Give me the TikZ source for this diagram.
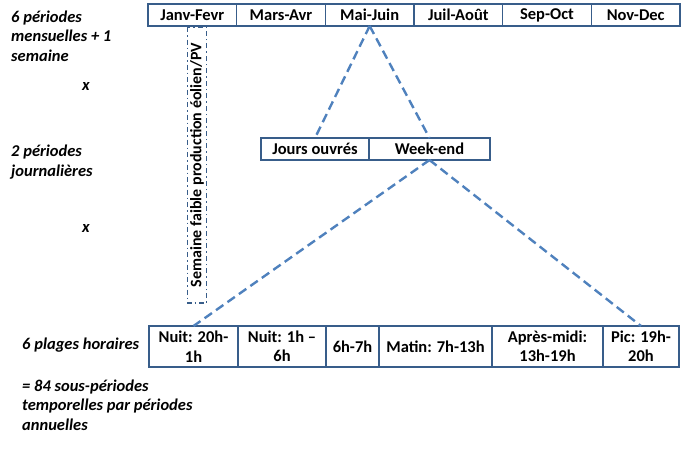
\documentclass[tikz,border=0pt]{standalone}
\usepackage{fontspec}
\setmainfont{Carlito}
\usetikzlibrary{positioning}
\definecolor{cadre}{RGB}{56,93,138}
\definecolor{trait}{RGB}{79,129,189}
\newcommand\taille{\fontsize{16.5}{19.5}\selectfont}

\begin{document}
\begin{tikzpicture}[x=1pt,y=-1pt,
    cellule/.style={draw=cadre,line width=1.6pt,minimum height=22pt,inner sep=0pt,outer sep=0pt,font=\taille\bfseries,align=center},
    plage/.style={cellule,minimum height=41pt},
    lien/.style={trait,line width=2.4pt,dash pattern=on 9pt off 5pt},
    legende/.style={font=\taille\bfseries\itshape,align=left,anchor=west,inner sep=0pt}]
  \useasboundingbox (0,0) rectangle (682,467);
  \def\largeur{88.67}

  \foreach \mois [count=\i] in {Janv-Fevr,Mars-Avr,Mai-Juin,Juil-Août,Sep-Oct,Nov-Dec}
    \node[cellule,minimum width=\largeur pt,anchor=north west] (mois\i) at ({148+(\i-1)*\largeur},4) {\mois};

  \node[cellule,minimum width=108pt,anchor=north west] (ouvres) at (261,138) {Jours ouvrés};
  \node[cellule,minimum width=121pt,right=0pt of ouvres] (weekend) {Week-end};

  \node[plage,minimum width=89pt,anchor=north west] (h1) at (149,326) {Nuit: 20h-\\1h};
  \node[plage,minimum width=88pt,right=0pt of h1] (h2) {Nuit: 1h –\\6h};
  \node[plage,minimum width=53pt,right=0pt of h2] (h3) {6h-7h};
  \node[plage,minimum width=113pt,right=0pt of h3] (h4) {Matin: 7h-13h};
  \node[plage,minimum width=111pt,right=0pt of h4] (h5) {Après-midi:\\13h-19h};
  \node[plage,minimum width=76pt,right=0pt of h5] (h6) {Pic: 19h-\\20h};

  \node[draw=cadre,line width=1.5pt,dash pattern=on 5pt off 3pt on 1.5pt off 3pt,rotate=90,minimum width=276pt,minimum height=19pt,inner sep=0pt,font=\fontsize{16}{19}\selectfont\bfseries] (semaine) at (197,165) {Semaine faible production éolien/PV};

  \draw[lien] (mois3.south) -- (ouvres.north);
  \draw[lien] (mois3.south) -- (weekend.north);
  \draw[lien] (weekend.south) -- (h1.north);
  \draw[lien] (weekend.south) -- (h6.north);

  \node[legende] (mensuel) at (11,36) {6 périodes\\mensuelles + 1\\semaine};
  \node[legende,anchor=center] (fois1) at (86,86) {x};
  \node[legende] (journalier) at (11,162) {2 périodes\\journalières};
  \node[legende,anchor=center] (fois2) at (86,228) {x};
  \node[legende] (horaire) at (22,345) {6 plages horaires};
  \node[legende] (total) at (22,405) {= 84 sous-périodes\\temporelles par périodes\\annuelles};
\end{tikzpicture}
\end{document}
